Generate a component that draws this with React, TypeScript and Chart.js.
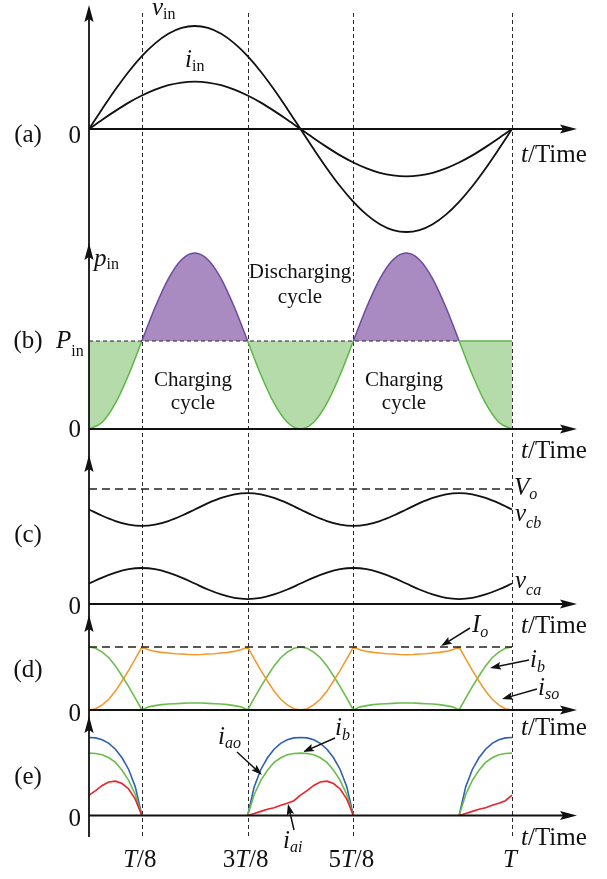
import React, { useEffect, useRef } from 'react';
import { Chart, registerables } from 'chart.js';

Chart.register(...registerables);

// ---------------- data (time in units of T) ----------------
const tCoarse = [0, 0.03125, 0.0625, 0.09375, 0.125, 0.15625, 0.1875, 0.21875, 0.25, 0.28125, 0.3125, 0.34375, 0.375, 0.40625, 0.4375, 0.46875, 0.5, 0.53125, 0.5625, 0.59375, 0.625, 0.65625, 0.6875, 0.71875, 0.75, 0.78125, 0.8125, 0.84375, 0.875, 0.90625, 0.9375, 0.96875, 1];
const tFine = [0, 0.015625, 0.03125, 0.046875, 0.0625, 0.078125, 0.09375, 0.109375, 0.125, 0.140625, 0.15625, 0.171875, 0.1875, 0.203125, 0.21875, 0.234375, 0.25, 0.265625, 0.28125, 0.296875, 0.3125, 0.328125, 0.34375, 0.359375, 0.375, 0.390625, 0.40625, 0.421875, 0.4375, 0.453125, 0.46875, 0.484375, 0.5, 0.515625, 0.53125, 0.546875, 0.5625, 0.578125, 0.59375, 0.609375, 0.625, 0.640625, 0.65625, 0.671875, 0.6875, 0.703125, 0.71875, 0.734375, 0.75, 0.765625, 0.78125, 0.796875, 0.8125, 0.828125, 0.84375, 0.859375, 0.875, 0.890625, 0.90625, 0.921875, 0.9375, 0.953125, 0.96875, 0.984375, 1];

// (a) input voltage / current
const vIn = [0, 0.195, 0.383, 0.556, 0.707, 0.831, 0.924, 0.981, 1, 0.981, 0.924, 0.831, 0.707, 0.556, 0.383, 0.195, 0, -0.195, -0.383, -0.556, -0.707, -0.831, -0.924, -0.981, -1, -0.981, -0.924, -0.831, -0.707, -0.556, -0.383, -0.195, 0];
const iIn = [0, 0.09, 0.176, 0.256, 0.325, 0.382, 0.425, 0.451, 0.46, 0.451, 0.425, 0.382, 0.325, 0.256, 0.176, 0.09, 0, -0.09, -0.176, -0.256, -0.325, -0.382, -0.425, -0.451, -0.46, -0.451, -0.425, -0.382, -0.325, -0.256, -0.176, -0.09, 0];

// (b) instantaneous input power (units of P_in)
const pIn = [0, 0.076, 0.293, 0.617, 1, 1.383, 1.707, 1.924, 2, 1.924, 1.707, 1.383, 1, 0.617, 0.293, 0.076, 0, 0.076, 0.293, 0.617, 1, 1.383, 1.707, 1.924, 2, 1.924, 1.707, 1.383, 1, 0.617, 0.293, 0.076, 0];
const pinLevel = 1;
const pinDashedSpan = [0, 0.875];
const pinSolidSpan = [0.875, 1];

// (c) capacitor voltages (units of V_o)
const vCb = [0.822, 0.767, 0.721, 0.69, 0.679, 0.69, 0.721, 0.767, 0.822, 0.877, 0.923, 0.954, 0.965, 0.954, 0.923, 0.877, 0.822, 0.767, 0.721, 0.69, 0.679, 0.69, 0.721, 0.767, 0.822, 0.877, 0.923, 0.954, 0.965, 0.954, 0.923, 0.877, 0.822];
const vCa = [0.178, 0.23, 0.273, 0.303, 0.313, 0.303, 0.273, 0.23, 0.178, 0.126, 0.083, 0.053, 0.043, 0.053, 0.083, 0.126, 0.178, 0.23, 0.273, 0.303, 0.313, 0.303, 0.273, 0.23, 0.178, 0.126, 0.083, 0.053, 0.043, 0.053, 0.083, 0.126, 0.178];
const voLevel = 1;
const levelSpan = [0, 1];

// (d) currents (units of I_o)
const ibD = [1, 0.98, 0.92, 0.83, 0.7, 0.54, 0.37, 0.19, 0, 0.05, 0.07, 0.085, 0.095, 0.1, 0.105, 0.11, 0.112, 0.11, 0.105, 0.1, 0.095, 0.085, 0.07, 0.05, 0, 0.19, 0.37, 0.54, 0.7, 0.83, 0.92, 0.98, 1, 0.98, 0.92, 0.83, 0.7, 0.54, 0.37, 0.19, 0, 0.05, 0.07, 0.085, 0.095, 0.1, 0.105, 0.11, 0.112, 0.11, 0.105, 0.1, 0.095, 0.085, 0.07, 0.05, 0, 0.19, 0.37, 0.54, 0.7, 0.83, 0.92, 0.98, 1];
const isoD = [0, 0.02, 0.08, 0.17, 0.3, 0.46, 0.63, 0.81, 1, 0.957, 0.93, 0.915, 0.904, 0.893, 0.888, 0.88, 0.878, 0.88, 0.888, 0.893, 0.904, 0.915, 0.93, 0.957, 1, 0.81, 0.63, 0.46, 0.3, 0.17, 0.08, 0.02, 0, 0.02, 0.08, 0.17, 0.3, 0.46, 0.63, 0.81, 1, 0.957, 0.93, 0.915, 0.904, 0.893, 0.888, 0.88, 0.878, 0.88, 0.888, 0.893, 0.904, 0.915, 0.93, 0.957, 1, 0.81, 0.63, 0.46, 0.3, 0.17, 0.08, 0.02, 0];
const ioLevel = 1;

// (e) currents (units of peak i_ao)
const N = null;
const iaoE = [1, 0.995, 0.97, 0.925, 0.85, 0.74, 0.59, 0.37, 0, N, N, N, N, N, N, N, N, N, N, N, N, N, N, N, 0, 0.37, 0.59, 0.74, 0.85, 0.925, 0.97, 0.995, 1, 0.995, 0.97, 0.925, 0.85, 0.74, 0.59, 0.37, 0, N, N, N, N, N, N, N, N, N, N, N, N, N, N, N, 0, 0.37, 0.59, 0.74, 0.85, 0.925, 0.97, 0.995, 1];
const ibE = [0.8, 0.795, 0.78, 0.74, 0.68, 0.58, 0.45, 0.27, 0, N, N, N, N, N, N, N, N, N, N, N, N, N, N, N, 0, 0.27, 0.45, 0.58, 0.68, 0.74, 0.78, 0.795, 0.8, 0.795, 0.78, 0.74, 0.68, 0.58, 0.45, 0.27, 0, N, N, N, N, N, N, N, N, N, N, N, N, N, N, N, 0, 0.27, 0.45, 0.58, 0.68, 0.74, 0.78, 0.795, 0.8];
const iaiE = [0.26, 0.32, 0.385, 0.43, 0.44, 0.41, 0.34, 0.21, 0, N, N, N, N, N, N, N, N, N, N, N, N, N, N, N, 0, 0.026, 0.053, 0.08, 0.1, 0.13, 0.156, 0.19, 0.26, 0.32, 0.385, 0.43, 0.44, 0.41, 0.34, 0.21, 0, N, N, N, N, N, N, N, N, N, N, N, N, N, N, N, 0, 0.026, 0.053, 0.08, 0.1, 0.13, 0.156, 0.19, 0.26];

const xTickValues = [0.125, 0.375, 0.625, 1];
const xTickLabels = ['T/8', '3T/8', '5T/8', 'T'];

// ---------------- layout / style ----------------
const W = 607;
const H = 879;
const AXIS_X = 89;
const ARROW_X = 577;
const T_X = 512;
const FAMILY = '"Liberation Serif", "Times New Roman", Times, serif';
const FS = 25;
const SUB = 16;

const panels = [
  { id: 'ya', zero: 129, unit: 103, arrowTop: 5, tag: '(a)', tagY: 142, zeroY: 143, timeY: 162 },
  { id: 'yb', zero: 429, unit: 88, arrowTop: 243, tag: '(b)', tagY: 348, zeroY: 437, timeY: 458 },
  { id: 'yc', zero: 604, unit: 115, arrowTop: 455, tag: '(c)', tagY: 542, zeroY: 614, timeY: 633 },
  { id: 'yd', zero: 710, unit: 63, arrowTop: 615, tag: '(d)', tagY: 677, zeroY: 721, timeY: 735 },
  { id: 'ye', zero: 815.5, unit: 78, arrowTop: 716, tag: '(e)', tagY: 784, zeroY: 826, timeY: 845 },
];

const BLACK = '#111';
const GREEN_LINE = '#5cb844';
const GREEN_FILL = '#b4dba9';
const PURPLE_LINE = '#6a4c9e';
const PURPLE_FILL = '#a98bc1';
const ORANGE = '#f29a30';
const GREEN2 = '#6abd4b';
const BLUE = '#2e5fb0';
const RED = '#e8232a';

type Run = [string, boolean, number, number?];

function drawRuns(ctx: CanvasRenderingContext2D, runs: Run[], x: number, y: number, align: 'left' | 'center' | 'right' = 'left') {
  const fonts = runs.map((r) => `${r[1] ? 'italic ' : ''}${r[2]}px ${FAMILY}`);
  const widths = runs.map((r, i) => {
    ctx.font = fonts[i];
    return ctx.measureText(r[0]).width;
  });
  const total = widths.reduce((a, b) => a + b, 0);
  let cx = align === 'center' ? x - total / 2 : align === 'right' ? x - total : x;
  ctx.textAlign = 'left';
  ctx.textBaseline = 'alphabetic';
  runs.forEach((r, i) => {
    ctx.font = fonts[i];
    ctx.fillText(r[0], cx, y + (r[3] || 0));
    cx += widths[i];
  });
}

function tickRuns(label: string): Run[] {
  const runs: Run[] = [];
  for (const ch of label) {
    const it = ch === 'T';
    const last = runs[runs.length - 1];
    if (last && last[1] === it) last[0] += ch;
    else runs.push([ch, it, FS]);
  }
  return runs;
}

function arrowHead(ctx: CanvasRenderingContext2D, tx: number, ty: number, dx: number, dy: number, len: number, half: number) {
  const bx = tx - dx * len;
  const by = ty - dy * len;
  const nx = -dy;
  const ny = dx;
  ctx.beginPath();
  ctx.moveTo(tx, ty);
  ctx.lineTo(bx + nx * half, by + ny * half);
  ctx.lineTo(bx + dx * len * 0.18, by + dy * len * 0.18);
  ctx.lineTo(bx - nx * half, by - ny * half);
  ctx.closePath();
  ctx.fill();
}

function pointer(ctx: CanvasRenderingContext2D, x1: number, y1: number, x2: number, y2: number) {
  const d = Math.hypot(x2 - x1, y2 - y1);
  const dx = (x2 - x1) / d;
  const dy = (y2 - y1) / d;
  ctx.lineWidth = 1.5;
  ctx.beginPath();
  ctx.moveTo(x1, y1);
  ctx.lineTo(x2 - dx * 6, y2 - dy * 6);
  ctx.stroke();
  arrowHead(ctx, x2, y2, dx, dy, 11, 3.8);
}

const pts = (t: number[], v: (number | null)[]) => t.map((x, i) => ({ x, y: v[i] }));

const decor = {
  id: 'decor',
  beforeDatasetsDraw(chart: any) {
    const ctx: CanvasRenderingContext2D = chart.ctx;
    const xs = chart.scales.x;
    ctx.save();
    ctx.strokeStyle = '#2a2a2a';
    ctx.lineWidth = 1;
    ctx.setLineDash([4, 3]);
    xTickValues.forEach((v) => {
      const px = Math.round(xs.getPixelForValue(v)) + 0.5;
      ctx.beginPath();
      ctx.moveTo(px, 13);
      ctx.lineTo(px, 838);
      ctx.stroke();
    });
    ctx.restore();
  },
  afterDatasetsDraw(chart: any) {
    const ctx: CanvasRenderingContext2D = chart.ctx;
    const xs = chart.scales.x;
    ctx.save();
    ctx.strokeStyle = BLACK;
    ctx.fillStyle = BLACK;
    ctx.setLineDash([]);
    // vertical axis
    ctx.lineWidth = 1.8;
    ctx.beginPath();
    ctx.moveTo(AXIS_X, 8);
    ctx.lineTo(AXIS_X, 837);
    ctx.stroke();
    panels.forEach((p) => {
      arrowHead(ctx, AXIS_X, p.arrowTop, 0, -1, 17, 4.6);
      const y0 = chart.scales[p.id].getPixelForValue(0);
      ctx.lineWidth = 1.8;
      ctx.beginPath();
      ctx.moveTo(AXIS_X, y0);
      ctx.lineTo(ARROW_X - 8, y0);
      ctx.stroke();
      arrowHead(ctx, ARROW_X, y0, 1, 0, 17, 4.6);
      drawRuns(ctx, [[p.tag, false, FS]], 28, p.tagY, 'center');
      drawRuns(ctx, [['0', false, FS]], 81, p.zeroY, 'right');
      drawRuns(ctx, [['t', true, FS], ['/Time', false, FS]], 521, p.timeY);
    });
    // bottom tick labels
    xTickValues.forEach((v, i) => {
      drawRuns(ctx, tickRuns(xTickLabels[i]), xs.getPixelForValue(v) - 2, 867, 'center');
    });
    // (a)
    drawRuns(ctx, [['v', true, FS], ['in', false, SUB, 4]], 152, 15);
    drawRuns(ctx, [['i', true, FS], ['in', false, SUB, 4]], 185, 67);
    // (b)
    drawRuns(ctx, [['p', true, FS], ['in', false, SUB, 3]], 94, 266);
    drawRuns(ctx, [['P', true, FS], ['in', false, SUB, 8]], 56, 348);
    drawRuns(ctx, [['Discharging', false, 21]], 300, 278, 'center');
    drawRuns(ctx, [['cycle', false, 21]], 300, 303, 'center');
    drawRuns(ctx, [['Charging', false, 21]], 193, 386, 'center');
    drawRuns(ctx, [['cycle', false, 21]], 193, 409, 'center');
    drawRuns(ctx, [['Charging', false, 21]], 404, 386, 'center');
    drawRuns(ctx, [['cycle', false, 21]], 404, 409, 'center');
    // (c)
    drawRuns(ctx, [['V', true, FS], ['o', true, SUB, 4]], 514, 495);
    drawRuns(ctx, [['v', true, FS], ['cb', true, SUB, 7]], 515, 521);
    drawRuns(ctx, [['v', true, FS], ['ca', true, SUB, 7]], 515, 588);
    // (d)
    drawRuns(ctx, [['I', true, FS], ['o', true, SUB, 5]], 472, 632);
    pointer(ctx, 470, 628, 441, 646);
    drawRuns(ctx, [['i', true, FS], ['b', true, SUB, 5]], 530, 667);
    pointer(ctx, 529, 660, 490, 668);
    drawRuns(ctx, [['i', true, FS], ['so', true, SUB, 4]], 538, 695);
    pointer(ctx, 537, 689, 502, 699);
    // (e)
    drawRuns(ctx, [['i', true, FS], ['ao', true, SUB, 4]], 218, 744);
    pointer(ctx, 237, 752, 262, 775);
    drawRuns(ctx, [['i', true, FS], ['b', true, SUB, 5]], 335, 735);
    pointer(ctx, 335, 738, 303, 752);
    drawRuns(ctx, [['i', true, FS], ['ai', true, SUB, 4]], 283, 848);
    pointer(ctx, 294, 830, 288, 804);
    ctx.restore();
  },
};

export default function App() {
  const ref = useRef<HTMLCanvasElement | null>(null);

  useEffect(() => {
    if (!ref.current) return;
    const scales: any = {
      x: { type: 'linear', display: false, bounds: 'data', min: 0, max: (ARROW_X - AXIS_X) / (T_X - AXIS_X) },
    };
    panels.forEach((p) => {
      scales[p.id] = { type: 'linear', display: false, bounds: 'data', min: -(H - p.zero) / p.unit, max: p.zero / p.unit };
    });

    const line = (data: any[], yAxisID: string, color: string, width: number, extra: any = {}) => ({
      data,
      yAxisID,
      borderColor: color,
      backgroundColor: color,
      borderWidth: width,
      pointRadius: 0,
      fill: false,
      spanGaps: false,
      ...extra,
    });

    const smooth = { cubicInterpolationMode: 'monotone' };

    const datasets: any[] = [
      // (a)
      line(pts(tCoarse, vIn), 'ya', BLACK, 1.8, smooth),
      line(pts(tCoarse, iIn), 'ya', BLACK, 1.8, smooth),
      // (b)
      line(pts(pinDashedSpan, [pinLevel, pinLevel]), 'yb', '#222', 1, { borderDash: [4, 3], order: 0 }),
      line(pts(pinSolidSpan, [pinLevel, pinLevel]), 'yb', GREEN_LINE, 1.5, { order: 0 }),
      line(pts(tCoarse, pIn), 'yb', GREEN_LINE, 1.5, {
        ...smooth,
        order: 10,
        fill: { target: { value: pinLevel }, above: PURPLE_FILL, below: GREEN_FILL },
        segment: {
          borderColor: (c: any) => ((c.p0.parsed.y + c.p1.parsed.y) / 2 > pinLevel ? PURPLE_LINE : GREEN_LINE),
        },
      }),
      // (c)
      line(pts(tCoarse, vCb), 'yc', BLACK, 1.8, smooth),
      line(pts(tCoarse, vCa), 'yc', BLACK, 1.8, smooth),
      line(pts(levelSpan, [voLevel, voLevel]), 'yc', '#222', 1.7, { borderDash: [8, 5] }),
      // (d)
      line(pts(levelSpan, [ioLevel, ioLevel]), 'yd', '#222', 1.7, { borderDash: [8, 5] }),
      line(pts(tFine, isoD), 'yd', ORANGE, 1.6, { order: 1 }),
      line(pts(tFine, ibD), 'yd', GREEN2, 1.6, { order: 2 }),
      // (e)
      line(pts(tFine, iaiE), 'ye', RED, 1.6, { order: 1 }),
      line(pts(tFine, ibE), 'ye', GREEN2, 1.6, { order: 2 }),
      line(pts(tFine, iaoE), 'ye', BLUE, 1.6, { order: 3 }),
    ];

    const chart = new Chart(ref.current, {
      type: 'line',
      data: { datasets },
      options: {
        animation: false,
        responsive: false,
        maintainAspectRatio: false,
        devicePixelRatio: 1,
        layout: { padding: { left: AXIS_X, right: W - ARROW_X, top: 0, bottom: 0 } },
        plugins: { legend: { display: false }, tooltip: { enabled: false } },
        elements: { point: { radius: 0 }, line: { tension: 0 } },
        scales,
      } as any,
      plugins: [decor],
    });
    return () => chart.destroy();
  }, []);

  return (
    <div style={{ position: 'absolute', left: 0, top: 0, width: W, height: H, background: '#fff' }}>
      <canvas ref={ref} width={W} height={H} style={{ display: 'block', width: W, height: H }} />
    </div>
  );
}
